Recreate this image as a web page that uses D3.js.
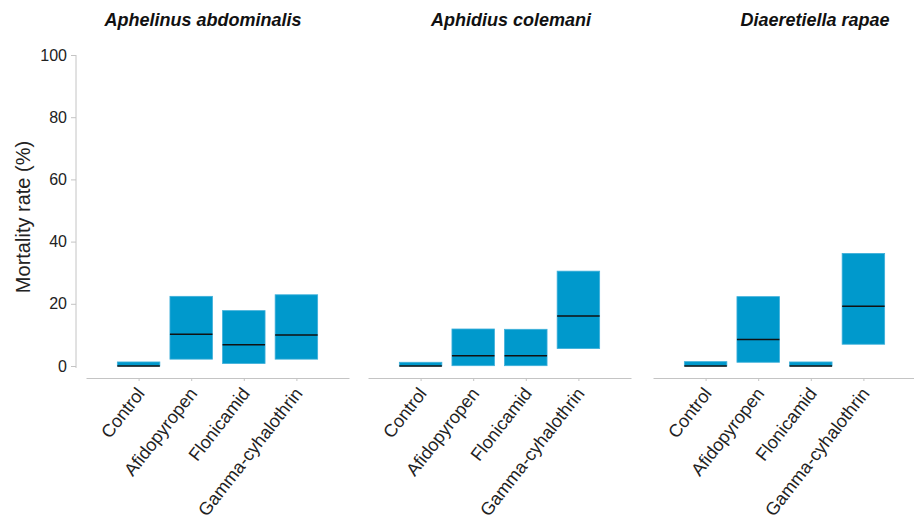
<!DOCTYPE html>
<html>
<head>
<meta charset="utf-8">
<script src="https://cdn.jsdelivr.net/npm/d3@7"></script>
<style>
  body { margin: 0; background: #fff; }
  svg { font-family: "Liberation Sans", Arial, sans-serif; }
  .axis path, .axis line { stroke: #c4c4c4; }
  .axis text { fill: #222; }
</style>
</head>
<body>
<div id="chart"></div>
<script>
// ---------------------------------------- Data ----------------------------------------
var species = ["Aphelinus abdominalis", "Aphidius colemani", "Diaeretiella rapae"];
var treatments = ["Control", "Afidopyropen", "Flonicamid", "Gamma-cyhalothrin"];
var yTicks = [0, 20, 40, 60, 80, 100];

// one row per species, one value per treatment
var lower  = [[0, 2.2, 0.8, 2.2], [0, 0.1, 0.1, 5.6], [0, 1.2, 0, 7.0]];
var upper  = [[1.3, 22.4, 17.8, 22.9], [1.2, 11.9, 11.8, 30.5], [1.4, 22.3, 1.3, 36.2]];
var median = [[0, 10.2, 6.8, 10.0], [0, 3.3, 3.3, 16.1], [0, 8.5, 0, 19.2]];

// ---------------------------------------- Layout ----------------------------------------
var W = 914, H = 523;
var panelX = [86, 368, 653], panelW = 263;
var titleX = [203, 511, 815];
var axisY = 378;
var barW = 42.5;
var barColor = "#0099cc";

var svg = d3.select("#chart").append("svg")
    .attr("width", W)
    .attr("height", H)

var yScale = d3.scaleLinear()
    .domain([0, 100])
    .range([366, 55])

var yAxis = d3.axisLeft(yScale)
    .tickValues(yTicks)
    .tickSize(5)
    .tickPadding(4)

svg.append("g")
  .attr("class", "axis y")
  .attr("transform", "translate(76,0)")
  .call(yAxis)
  .call(g => g.selectAll("text").attr("font-size", "16px"))
  .call(g => g.select(".domain").attr("d", "M0," + yScale(100) + "V" + (yScale(0) + 2)))

svg.append("text")
  .attr("transform", "translate(30,217) rotate(-90)")
  .attr("text-anchor", "middle")
  .attr("font-size", "20px")
  .attr("fill", "#222")
  .text("Mortality rate (%)")

species.forEach(function(sp, p) {
  var xScale = d3.scalePoint()
      .domain(treatments)
      .range([panelX[p], panelX[p] + panelW])
      .padding(1)

  var xAxis = d3.axisBottom(xScale)
      .tickSize(3)
      .tickSizeOuter(0)
      .tickFormat("")

  var g = svg.append("g").attr("class", "panel")

  g.append("g")
    .attr("class", "axis x")
    .attr("transform", "translate(0," + axisY + ")")
    .call(xAxis)

  g.selectAll(".xlabel")
    .data(treatments)
    .enter().append("text")
      .attr("class", "xlabel")
      .attr("transform", d => "translate(" + (xScale(d) - 3) + "," + (axisY + 8) + ") rotate(-52)")
      .attr("text-anchor", "end")
      .attr("dy", "0.7em")
      .attr("font-size", "18px")
      .attr("fill", "#222")
      .text(d => d)

  var rows = treatments.map((t, i) => ({ t: t, lo: lower[p][i], hi: upper[p][i], med: median[p][i] }))

  g.selectAll(".bar")
    .data(rows)
    .enter().append("rect")
      .attr("class", "bar")
      .attr("x", d => xScale(d.t) - barW / 2)
      .attr("y", d => yScale(d.hi))
      .attr("width", barW)
      .attr("height", d => yScale(d.lo) - yScale(d.hi))
      .attr("fill", barColor)
      .attr("stroke", "#3fb0da")
      .attr("stroke-width", 0.8)

  g.selectAll(".med")
    .data(rows)
    .enter().append("line")
      .attr("class", "med")
      .attr("x1", d => xScale(d.t) - barW / 2)
      .attr("x2", d => xScale(d.t) + barW / 2)
      .attr("y1", d => yScale(d.med))
      .attr("y2", d => yScale(d.med))
      .attr("stroke", "#111")
      .attr("stroke-width", 1.5)

  g.append("text")
    .attr("x", titleX[p])
    .attr("y", 26)
    .attr("text-anchor", "middle")
    .attr("font-size", "18px")
    .attr("font-weight", "bold")
    .attr("font-style", "italic")
    .attr("fill", "#111")
    .text(sp)
})
</script>
</body>
</html>
